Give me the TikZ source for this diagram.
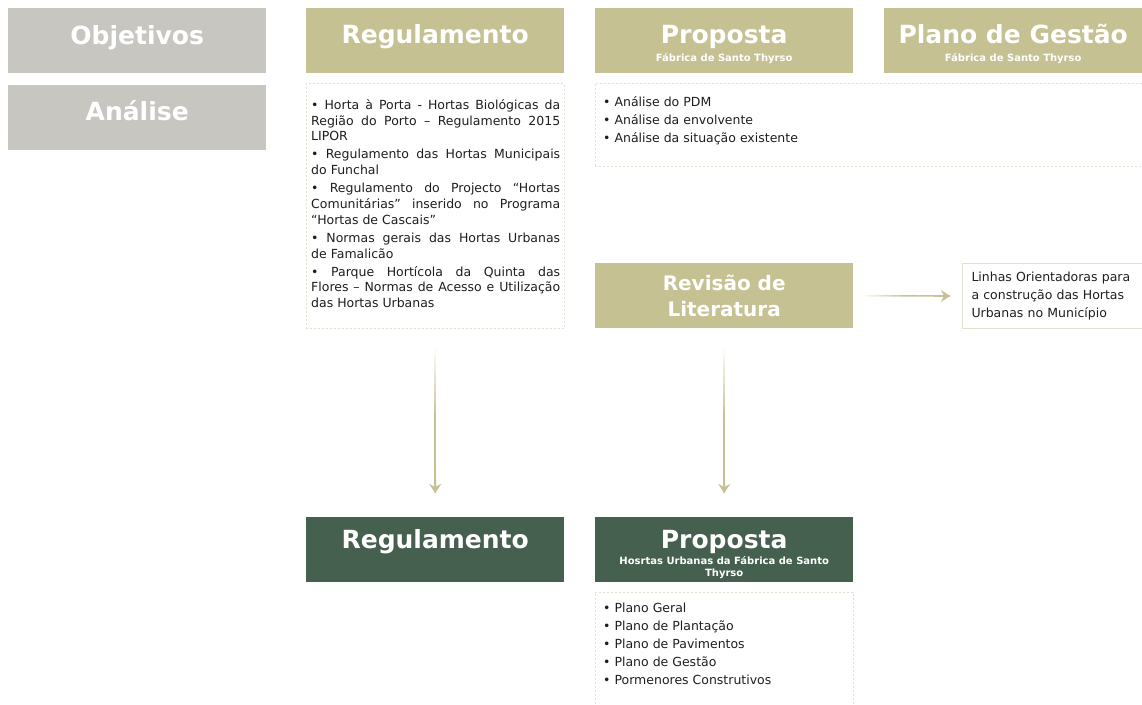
\documentclass[tikz,border=0pt]{standalone}
\usepackage{fontspec}
\setmainfont{DejaVu Sans}
\usetikzlibrary{positioning, arrows.meta, calc}

\definecolor{boxgray}{HTML}{C7C6C1}
\definecolor{boxtan}{HTML}{C6C193}
\definecolor{boxgreen}{HTML}{46604F}
\definecolor{panelline}{HTML}{E2E0CE}
\definecolor{textdark}{HTML}{1E1E1E}

\newcommand{\headfont}{\fontsize{25}{28}\selectfont\bfseries}
\newcommand{\subfont}{\fontsize{10}{12}\selectfont\bfseries}
\newcommand{\listfont}{\fontsize{12.5}{18}\selectfont}
% title text with its first baseline #1 above the box centre
\newcommand{\headtext}[2]{\raisebox{#1}[0pt][0pt]{\parbox[t]{256pt}{\centering #2}}}

\tikzset{
    x=1pt, y=1pt,
    head/.style={           % coloured title boxes
        minimum width=258pt,
        minimum height=65pt,
        inner sep=0pt,
        anchor=north west,
        align=center,
        text=white,
        font=\headfont
    },
    grayhead/.style={head, fill=boxgray},
    tanhead/.style={head, fill=boxtan},
    greenhead/.style={head, fill=boxgreen},
    panel/.style={          % dotted frame under a title
        draw=panelline,
        dash pattern=on 2pt off 2pt,
        anchor=north west,
        inner sep=0pt
    },
    listtext/.style={
        anchor=north west,
        inner sep=0pt,
        align=left,
        text=textdark,
        font=\listfont
    },
    flow/.style={           % arrow head of the connectors
        draw=boxtan,
        line width=1.6pt,
        -{Stealth[length=9pt, width=12pt, inset=3pt]}
    }
}

\begin{document}
\begin{tikzpicture}
    \useasboundingbox (0,0) rectangle (1142,-704);

    % first column
    \node[grayhead] (objetivos) at (8,-8) {\headtext{-3.5pt}{Objetivos}};
    \node[grayhead, below=11pt of objetivos] (analise) {\headtext{-3.5pt}{Análise}};

    % top row
    \node[tanhead] (regtop) at (306,-8) {\headtext{-2.5pt}{Regulamento}};
    \node[tanhead] (proptop) at (595,-8) {\headtext{-2.5pt}{Proposta\\[-10pt]{\subfont Fábrica de Santo Thyrso}}};
    \node[tanhead] (gestao) at (884,-8) {\headtext{-2.5pt}{Plano de Gestão\\[-10pt]{\subfont Fábrica de Santo Thyrso}}};

    % regulamento list
    \node[panel, minimum width=258pt, minimum height=245pt, below=10pt of regtop] (regpanel) {};
    \node[listtext] (regtext) at (311,-99) {\parbox{249pt}{\fontsize{12.5}{15.8}\selectfont\setlength{\parskip}{2.2pt}%
        • Horta à Porta - Hortas Biológicas da\linebreak Região do Porto – Regulamento 2015\linebreak LIPOR\par
        • Regulamento das Hortas Municipais\linebreak do Funchal\par
        • Regulamento do Projecto “Hortas\linebreak Comunitárias” inserido no Programa\linebreak “Hortas de Cascais”\par
        • Normas gerais das Hortas Urbanas\linebreak de Famalicão\par
        • Parque Hortícola da Quinta das\linebreak Flores – Normas de Acesso e Utilização\linebreak das Hortas Urbanas}};

    % analise list
    \node[panel, minimum width=570pt, minimum height=83pt] (anpanel) at (595,-83) {};
    \node[listtext] (antext) at (603,-96) {• Análise do PDM\\• Análise da envolvente\\• Análise da situação existente};

    % revisao and guidelines
    \node[tanhead, font=\fontsize{20}{26}\selectfont\bfseries] (revisao) at (595,-263) {Revisão de\\Literatura};
    \node[draw=panelline, line width=1pt, anchor=north west, minimum width=180pt, minimum height=65pt,
          text width=162pt, inner xsep=9pt, align=left, text=textdark, font=\listfont] (linhas) at (962,-263)
          {Linhas Orientadoras para\\a construção das Hortas\\Urbanas no Município};

    % results
    \node[greenhead] (regbottom) at (306,-517) {\headtext{1.5pt}{Regulamento}};
    \node[greenhead] (propbottom) at (595,-517) {\headtext{1.5pt}{Proposta\\[-12pt]{\subfont Hosrtas Urbanas da Fábrica de Santo}\\[-16pt]{\subfont Thyrso}}};
    \node[panel, minimum width=258pt, minimum height=130pt] (proppanel) at (595,-592) {};
    \node[listtext] (proptext) at (603,-603) {• Plano Geral\\• Plano de Plantação\\• Plano de Pavimentos\\• Plano de Gestão\\• Pormenores Construtivos};

    % arrows, faded at their start
    \coordinate (a1) at ([yshift=-19pt]regpanel.south);
    \coordinate (b1) at ([yshift=24pt]regbottom.north);
    \coordinate (a2) at ([yshift=-19pt]revisao.south);
    \coordinate (b2) at ([yshift=24pt]propbottom.north);
    \coordinate (a3) at ([xshift=9pt]revisao.east);
    \coordinate (b3) at ([xshift=-12pt]linhas.west);
    \foreach \s/\e in {a1/b1, a2/b2, a3/b3} {
        \foreach \k in {0,...,19} {
            \pgfmathtruncatemacro\pct{min(100,8+\k*10)}
            \draw[boxtan!\pct!white, line width=1.6pt] ($(\s)!\k/20!(\e)$) -- ($(\s)!{(\k+1)/20}!(\e)$);
        }
        \draw[flow] ($(\s)!0.9!(\e)$) -- (\e);
    }
\end{tikzpicture}
\end{document}
